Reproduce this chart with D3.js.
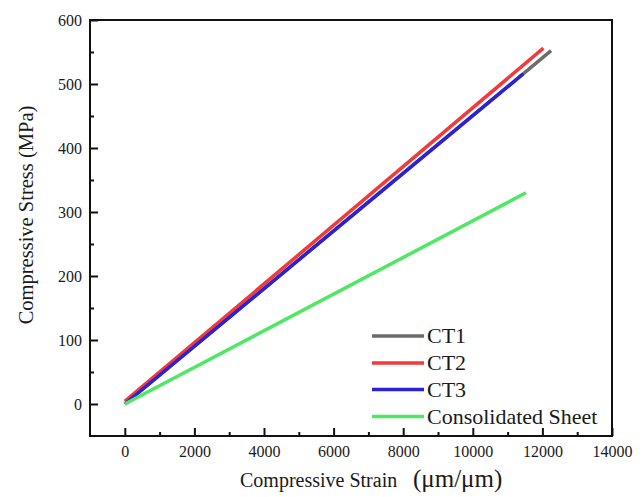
<!DOCTYPE html>
<html>
<head>
<meta charset="utf-8">
<script src="https://cdn.jsdelivr.net/npm/d3@7"></script>
<style>
  html, body { margin: 0; padding: 0; background: #fff; }
  svg { display: block; }
</style>
</head>
<body>
<script>
// ---- data ----
const seriesNames = ["CT1", "CT2", "CT3", "Consolidated Sheet"];
const seriesColors = ["#6b6b6b", "#f23a3a", "#2a22d4", "#4ee865"];
const ct1Strain = [0, 12250];
const ct1Stress = [0, 552];
const ct2Strain = [0, 12030];
const ct2Stress = [4, 556];
const ct3Strain = [0, 11450];
const ct3Stress = [0, 516];
const consStrain = [0, 11530];
const consStress = [0, 330];
const xTicks = [0, 2000, 4000, 6000, 8000, 10000, 12000, 14000];
const xMinorTicks = [1000, 3000, 5000, 7000, 9000, 11000, 13000];
const yTicks = [0, 100, 200, 300, 400, 500, 600];
const yMinorTicks = [50, 150, 250, 350, 450, 550];

const series = [
  {name: seriesNames[0], color: seriesColors[0], xs: ct1Strain, ys: ct1Stress},
  {name: seriesNames[1], color: seriesColors[1], xs: ct2Strain, ys: ct2Stress},
  {name: seriesNames[2], color: seriesColors[2], xs: ct3Strain, ys: ct3Stress},
  {name: seriesNames[3], color: seriesColors[3], xs: consStrain, ys: consStress}
];

const FONT = "Liberation Serif";
const W = 644, H = 497;
const L = 90, R = 612, T = 20, B = 436;

const svg = d3.select("body").append("svg").attr("width", W).attr("height", H)
  .attr("font-family", FONT);

const x = d3.scaleLinear().domain([-1000, 14000]).range([L, R]);
const y = d3.scaleLinear().domain([-50, 600]).range([B, T]);

// axes
const gx = svg.append("g").attr("transform", `translate(0,${B})`)
  .call(d3.axisBottom(x).tickValues(xTicks).tickSize(-8).tickPadding(10).tickFormat(d3.format("d")));
const gxm = svg.append("g").attr("transform", `translate(0,${B})`)
  .call(d3.axisBottom(x).tickValues(xMinorTicks).tickSize(-4).tickFormat(""));

const gy = svg.append("g").attr("transform", `translate(${L},0)`)
  .call(d3.axisLeft(y).tickValues(yTicks).tickSize(-8).tickPadding(8).tickFormat(d3.format("d")));
const gym = svg.append("g").attr("transform", `translate(${L},0)`)
  .call(d3.axisLeft(y).tickValues(yMinorTicks).tickSize(-4).tickFormat(""));

[gx, gxm, gy, gym].forEach(g => g.attr("font-family", FONT).attr("font-size", 16));
[gx, gy].forEach(g => g.selectAll("text")
  .attr("font-family", FONT).attr("font-size", 16).attr("fill", "#1a1a1a"));

svg.selectAll(".domain").remove();
svg.selectAll(".tick line").attr("stroke", "#111").attr("stroke-width", 2);

// lines
const line = d3.line().x(d => x(d[0])).y(d => y(d[1]));
svg.append("clipPath").attr("id", "clip").append("rect")
  .attr("x", L).attr("y", T).attr("width", R - L).attr("height", B - T);
series.forEach(s => {
  const pts = s.xs.map((v, i) => [v, s.ys[i]]);
  svg.append("path").datum(pts)
    .attr("d", line)
    .attr("fill", "none")
    .attr("stroke", s.color)
    .attr("stroke-width", 3.5)
    .attr("clip-path", "url(#clip)");
});

// frame
svg.append("rect").attr("x", L).attr("y", T).attr("width", R - L).attr("height", B - T)
  .attr("fill", "none").attr("stroke", "#111").attr("stroke-width", 2);

// legend
const legY = [336, 363, 389.5, 416.5];
series.forEach((s, i) => {
  svg.append("line").attr("x1", 372).attr("x2", 424).attr("y1", legY[i]).attr("y2", legY[i])
    .attr("stroke", s.color).attr("stroke-width", 3.5);
  svg.append("text").attr("x", 427).attr("y", legY[i] + 7)
    .attr("font-family", FONT).attr("font-size", 22).attr("fill", "#1a1a1a").text(s.name);
});

// axis titles
const xt = svg.append("text").attr("y", 487)
  .attr("font-family", FONT).attr("fill", "#1a1a1a");
xt.append("tspan").attr("x", 240).attr("font-size", 20).text("Compressive Strain");
xt.append("tspan").attr("x", 413).attr("font-size", 25).text("(μm/μm)");

svg.append("text")
  .attr("transform", "translate(33,215) rotate(-90)")
  .attr("text-anchor", "middle")
  .attr("font-family", FONT)
  .attr("font-size", 20.5)
  .attr("fill", "#1a1a1a")
  .text("Compressive Stress (MPa)");
</script>
</body>
</html>
